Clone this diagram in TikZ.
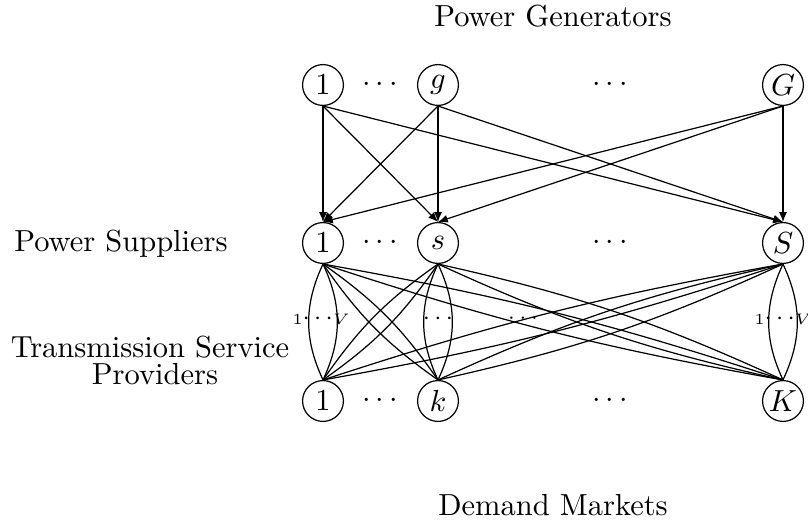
\documentclass[tikz,border=0pt]{standalone}
\usetikzlibrary{arrows.meta}
\begin{document}
\begin{tikzpicture}[x=0.328pt,y=-0.328pt,
  netnode/.style={circle,draw,minimum size=13.4pt,inner sep=0pt},
  flow/.style={-{Latex[length=3.2pt,width=2.6pt]}},
  tlabel/.style={anchor=base,inner sep=0pt},
  lenslabel/.style={inner sep=0pt}
]
\useasboundingbox (0,0) rectangle (808,524);
% titles
\node[tlabel] (tgen) at (553,27) {Power Generators};
\node[tlabel] (tdem) at (553,516) {Demand Markets};
\node[tlabel] (tsup) at (121,252) {Power Suppliers};
\node[tlabel] (ttra) at (150,358) {Transmission Service};
\node[tlabel] (tpro) at (155,385) {Providers};
% generators
\node[netnode] (g1) at (323,85) {$1$};
\node[netnode] (gg) at (438,85) {$g$};
\node[netnode] (gG) at (783,85) {$G$};
\node (gd1) at (380,85) {$\cdots$};
\node (gd2) at (610,85) {$\cdots$};
% suppliers
\node[netnode] (s1) at (323,243) {$1$};
\node[netnode] (ss) at (438,243) {$s$};
\node[netnode] (sS) at (783,243) {$S$};
\node (sd1) at (380,243) {$\cdots$};
\node (sd2) at (610,243) {$\cdots$};
% transmission providers
\node[netnode] (t1) at (323,401) {$1$};
\node[netnode] (tk) at (438,401) {$k$};
\node[netnode] (tK) at (783,401) {$K$};
\node (td1) at (380,401) {$\cdots$};
\node (td2) at (610,401) {$\cdots$};
% generator -> supplier
\foreach \a in {g1,gg,gG}
  \foreach \b in {s1,ss,sS}
    \draw[flow] (\a.south) -- (\b.north);
% supplier -> transmission (V links each)
\foreach \a/\b/\c in {s1/t1/25, s1/tk/10, s1/tK/4, ss/t1/10, ss/tk/25, ss/tK/6, sS/t1/4, sS/tk/6, sS/tK/25} {
  \draw (\a.south) to[bend left=\c] (\b.north);
  \draw (\a.south) to[bend right=\c] (\b.north);
}
% link labels
\node[lenslabel] (lv1) at (321,319) {{\tiny 1}{\footnotesize$\cdots$}{\tiny$V$}};
\node[lenslabel] (lvS) at (783,319) {{\tiny 1}{\footnotesize$\cdots$}{\tiny$V$}};
\node[lenslabel] (lvs) at (438,319) {\footnotesize$\cdots$};
\node[lenslabel] (lvm) at (523,319) {\scriptsize$\cdots$};
\end{tikzpicture}
\end{document}
